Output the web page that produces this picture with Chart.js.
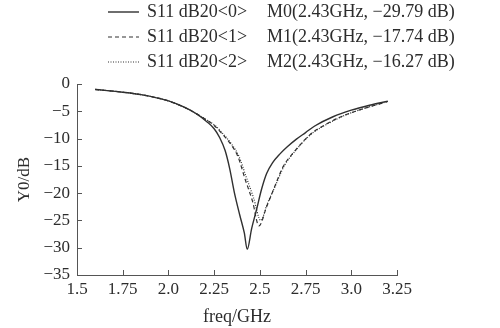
<!DOCTYPE html>
<html>
<head>
<meta charset="utf-8">
<script src="https://cdn.jsdelivr.net/npm/chart.js@4.4.0/dist/chart.umd.min.js"></script>
<style>
html,body{margin:0;padding:0;background:#fff;}
#wrap{width:500px;height:328px;position:relative;}
</style>
</head>
<body>
<div id="wrap"><canvas id="c" width="500" height="328"></canvas></div>
<script>
// ---- data ----
const seriesNames = ['S11 dB20<0>', 'S11 dB20<1>', 'S11 dB20<2>'];
const markerTexts = ['M0(2.43GHz, \u221229.79 dB)', 'M1(2.43GHz, \u221217.74 dB)', 'M2(2.43GHz, \u221216.27 dB)'];

const freq0 = [1.6, 1.75, 1.85, 2.0, 2.09, 2.16, 2.21, 2.25, 2.28, 2.31, 2.335, 2.36, 2.39, 2.415, 2.431, 2.455, 2.482, 2.51, 2.537, 2.57, 2.61, 2.65, 2.7, 2.75, 2.8, 2.9, 3.0, 3.1, 3.2];
const db0   = [-1.0, -1.5, -1.95, -3.1, -4.3, -5.6, -6.9, -8.2, -9.8, -12.2, -15.5, -19.8, -24.0, -27.3, -30.3, -26.5, -23.0, -19.2, -16.4, -14.4, -12.8, -11.5, -10.1, -8.9, -7.7, -6.0, -4.8, -3.9, -3.15];

const freq1 = [1.6, 1.75, 1.85, 2.0, 2.1, 2.2, 2.25, 2.29, 2.34, 2.38, 2.42, 2.46, 2.495, 2.537, 2.574, 2.628, 2.683, 2.774, 2.85, 2.95, 3.05, 3.2];
const db1   = [-1.0, -1.5, -1.95, -3.1, -4.5, -6.4, -7.6, -9.0, -11.0, -13.3, -17.5, -21.5, -26.0, -22.5, -19.4, -15.1, -12.6, -9.3, -7.6, -5.9, -4.7, -3.2];

const freq2 = [1.6, 1.75, 1.85, 2.0, 2.1, 2.2, 2.255, 2.295, 2.345, 2.385, 2.425, 2.465, 2.505, 2.54, 2.58, 2.635, 2.69, 2.78, 2.86, 2.96, 3.06, 3.2];
const db2   = [-1.0, -1.5, -1.95, -3.1, -4.5, -6.4, -7.6, -9.0, -11.0, -13.2, -17.0, -20.8, -25.0, -22.0, -19.0, -14.9, -12.4, -9.2, -7.5, -5.8, -4.6, -3.2];

const xTickLabels = ['1.5', '1.75', '2.0', '2.25', '2.5', '2.75', '3.0', '3.25'];
const yTickLabels = ['0', '\u22125', '\u221210', '\u221215', '\u221220', '\u221225', '\u221230', '\u221235'];

const xTitle = 'freq/GHz';
const yTitle = 'Y0/dB';

// ---- build ----
const toPts = (xs, ys) => xs.map((x, i) => ({x: x, y: ys[i]}));
const lineColor = '#303030';
const FONT = "'Liberation Serif', 'DejaVu Serif', serif";

const legendPlugin = {
  id: 'customLegend',
  afterDraw(chart) {
    const ctx = chart.ctx;
    ctx.save();
    ctx.font = '18px ' + FONT;
    ctx.fillStyle = '#2c2c2c';
    ctx.textBaseline = 'middle';
    chart.data.datasets.forEach((ds, i) => {
      const y = 12 + i * 25;
      ctx.strokeStyle = ds.borderColor;
      ctx.lineWidth = ds.borderWidth;
      ctx.setLineDash(ds.borderDash || []);
      ctx.beginPath();
      ctx.moveTo(108, y);
      ctx.lineTo(139, y);
      ctx.stroke();
      ctx.setLineDash([]);
      ctx.textAlign = 'left';
      ctx.fillText(ds.label, 147, y);
      ctx.fillText(markerTexts[i], 267, y);
    });
    ctx.restore();
  }
};

const innerTicks = {
  id: 'innerTicks',
  afterDraw(chart) {
    const ctx = chart.ctx;
    const xs = chart.scales.x, ys = chart.scales.y;
    ctx.save();
    ctx.strokeStyle = '#555';
    ctx.lineWidth = 1;
    xs.ticks.forEach(t => {
      const px = Math.round(xs.getPixelForValue(t.value)) + 0.5;
      ctx.beginPath();
      ctx.moveTo(px, ys.bottom);
      ctx.lineTo(px, ys.bottom - 5);
      ctx.stroke();
    });
    ys.ticks.forEach(t => {
      const py = Math.round(ys.getPixelForValue(t.value)) + 0.5;
      ctx.beginPath();
      ctx.moveTo(xs.left, py);
      ctx.lineTo(xs.left + 5, py);
      ctx.stroke();
    });
    ctx.restore();
  }
};

new Chart(document.getElementById('c'), {
  type: 'line',
  data: {
    datasets: [
      {label: seriesNames[0], data: toPts(freq0, db0), borderColor: lineColor, borderWidth: 1.4, borderDash: [], pointRadius: 0, cubicInterpolationMode: 'monotone'},
      {label: seriesNames[1], data: toPts(freq1, db1), borderColor: lineColor, borderWidth: 1.2, borderDash: [4, 3], pointRadius: 0, cubicInterpolationMode: 'monotone'},
      {label: seriesNames[2], data: toPts(freq2, db2), borderColor: lineColor, borderWidth: 1.2, borderDash: [1, 1.5], pointRadius: 0, cubicInterpolationMode: 'monotone'}
    ]
  },
  options: {
    responsive: false,
    animation: false,
    layout: {padding: {top: 84, right: 103, left: 0, bottom: 0}},
    plugins: {legend: {display: false}, tooltip: {enabled: false}},
    scales: {
      x: {
        type: 'linear', min: 1.5, max: 3.25,
        afterFit(s) { s.height = 53; },
        grid: {display: false, drawTicks: false},
        border: {display: true, color: '#555', width: 1},
        ticks: {
          stepSize: 0.25, autoSkip: false, maxRotation: 0, padding: 4,
          color: '#2c2c2c', font: {family: FONT, size: 17},
          callback: (v) => xTickLabels[Math.round((v - 1.5) / 0.25)]
        },
        title: {display: true, text: xTitle, color: '#2c2c2c', font: {family: FONT, size: 18}, padding: {top: 0, bottom: 0}}
      },
      y: {
        type: 'linear', min: -35, max: 0,
        afterFit(s) { s.width = 77; },
        grid: {display: false, drawTicks: false},
        border: {display: true, color: '#555', width: 1},
        ticks: {
          stepSize: 5, padding: 7,
          color: '#2c2c2c', font: {family: FONT, size: 17},
          callback: (v) => yTickLabels[Math.round(-v / 5)]
        },
        title: {display: true, text: yTitle, color: '#2c2c2c', font: {family: FONT, size: 17}, padding: {top: 14, bottom: 0}}
      }
    }
  },
  plugins: [legendPlugin, innerTicks]
});
</script>
</body>
</html>
